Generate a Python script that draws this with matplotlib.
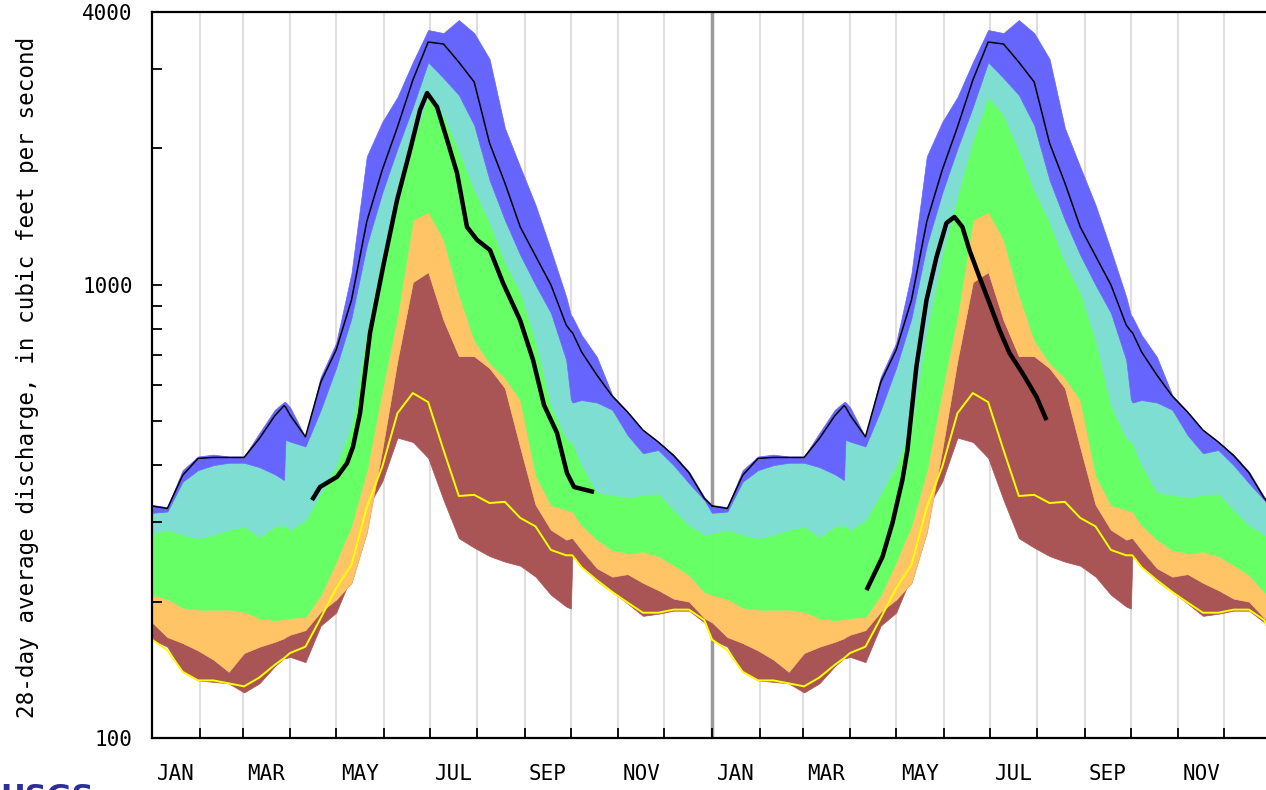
import matplotlib
matplotlib.use('Agg')
import matplotlib.pyplot as plt
from matplotlib.ticker import NullFormatter
import numpy as np

# day of year for the climatology curves (same curves drawn for both years)
days = [0, 10, 20, 30, 40, 50, 60, 70, 80, 86, 87, 90, 100, 110, 120, 130, 140, 150, 160, 170,
        180, 190, 200, 210, 220, 230, 240, 250, 260, 270, 273, 274, 280, 290, 300, 310, 320,
        330, 340, 350, 360, 365]

vmax = [327, 323, 390, 418, 422, 418, 418, 471, 530, 551, 551, 537, 461, 627, 744, 1060, 1920,
        2285, 2597, 3100, 3650, 3594, 3840, 3594, 3150, 2218, 1820, 1500, 1193, 940, 858, 850,
        775, 693, 571, 524, 478, 450, 422, 387, 340, 327]
p90 = [314, 316, 368, 390, 400, 405, 405, 396, 382, 371, 455, 451, 440, 530, 656, 845, 1224,
       1595, 2000, 2468, 3100, 2860, 2624, 2252, 1703, 1390, 1164, 999, 867, 682, 560, 550,
       557, 550, 530, 466, 425, 432, 400, 365, 335, 314]
p75 = [283, 288, 281, 276, 281, 288, 293, 278, 293, 295, 295, 288, 303, 347, 400, 491, 795,
       1164, 1578, 2090, 2600, 2371, 1982, 1620, 1376, 1123, 964, 755, 543, 459, 450, 448,
       400, 349, 344, 340, 344, 347, 319, 295, 281, 283]
p25 = [207, 203, 194, 192, 192, 192, 190, 184, 182, 183, 183, 184, 185, 207, 245, 295, 390,
       586, 858, 1390, 1450, 1256, 950, 755, 672, 623, 557, 380, 327, 319, 316, 316,
       295, 274, 260, 256, 258, 252, 241, 229, 210, 207]
p10 = [180, 167, 162, 156, 149, 140, 154, 159, 163, 166, 167, 169, 173, 190, 202, 220, 285,
       432, 682, 1014, 1067, 836, 696, 696, 655, 592, 438, 327, 288, 274, 276, 276,
       260, 237, 227, 230, 220, 212, 203, 200, 184, 180]
vmin = [165, 159, 140, 134, 133, 132, 126, 132, 144, 150, 150, 151, 147, 177, 189, 228, 320,
        368, 460, 450, 415, 335, 276, 263, 252, 245, 240, 227, 207, 195, 193, 252,
        240, 222, 210, 198, 186, 188, 191, 191, 180, 165]
thin_black = [325, 321, 380, 414, 416, 416, 416, 458, 514, 541, 538, 516, 462, 610, 718, 925, 1380,
              1790, 2230, 2830, 3434, 3400, 3100, 2803, 2055, 1678, 1342, 1158, 1000, 815, 790, 785,
              711, 632, 568, 524, 478, 450, 420, 385, 338, 325]
yellow = [165, 156, 140, 134, 134, 132, 130, 136, 145, 150, 151, 154, 159, 184, 214, 241, 323,
          396, 521, 577, 551, 432, 342, 344, 330, 332, 306, 293, 260, 253, 253, 253,
          238, 223, 210, 199, 189, 189, 192, 192, 182, 165]

# current-year 28-day averages (day of year, cfs)
cur1_days = [104.3, 109.5, 120.6, 127.1, 131.0, 135.6, 142.1, 150.6, 159.7, 168.2, 174.7, 179.3,
             185.8, 192.3, 198.8, 205.3, 211.9, 220.3, 228.8, 239.9, 248.4, 255.5, 264.0, 270.5,
             275.1, 288.1]
cur1_vals = [335, 358, 377, 404, 439, 521, 783, 1095, 1537, 1982, 2431, 2650, 2468, 2090, 1766,
             1342, 1256, 1193, 1009, 836, 682, 543, 471, 384, 358, 349]
cur2_days = [100.7, 111.1, 117.6, 124.1, 127.4, 133.2, 139.8, 146.3, 152.8, 158.0, 163.2, 167.8,
             174.3, 180.8, 187.4, 193.9, 202.3, 211.5, 218.0]
cur2_vals = [212, 251, 298, 371, 432, 659, 925, 1151, 1369, 1412, 1342, 1193, 1041, 912, 795,
             707, 639, 566, 503]

month_len = [31, 28, 31, 30, 31, 30, 31, 31, 30, 31, 30, 31]
month_names = ['JAN', 'MAR', 'MAY', 'JUL', 'SEP', 'NOV']

c_blue = '#6666ff'
c_cyan = '#7fded2'
c_green = '#66ff66'
c_orange = '#ffc466'
c_brown = '#aa5555'

mono = 'DejaVu Sans Mono'

fig = plt.figure(figsize=(12.66, 7.90), dpi=100)
ax = fig.add_axes([152 / 1266, 52 / 790, 1120 / 1266, 726 / 790])
ax.set_yscale('log')

bounds = np.cumsum([0] + month_len)
for yr in range(2):
    for b in bounds[1:]:
        x = b + 365 * yr
        if x == 365:
            ax.axvline(x, color='#9a9a9a', lw=2.5, zorder=0)
        elif x < 730:
            ax.axvline(x, color='#dedede', lw=1.5, zorder=0)

bands = [(vmin, p10, c_brown), (p10, p25, c_orange), (p25, p75, c_green),
         (p75, p90, c_cyan), (p90, vmax, c_blue)]
for off in (0, 365):
    d = np.array(days) + off
    for lo, hi, c in bands:
        ax.fill_between(d, lo, hi, facecolor=c, edgecolor=c, lw=0.5, zorder=1)
    ax.plot(d, yellow, color='#ffff00', lw=1.4, zorder=2)
    ax.plot(d, thin_black, color='black', lw=1.1, zorder=3)

ax.plot(cur1_days, cur1_vals, color='black', lw=3.2, zorder=4, solid_capstyle='butt')
ax.plot(np.array(cur2_days) + 365, cur2_vals, color='black', lw=3.2, zorder=4,
        solid_capstyle='butt')

ax.set_xlim(0, 730)
ax.set_ylim(100, 4000)

# month boundary ticks, labels centred on odd months
tick_pos = [b + 365 * yr for yr in range(2) for b in bounds[1:-1]] + [365]
ax.set_xticks(sorted(tick_pos))
ax.set_xticklabels([''] * len(tick_pos))
lab_pos = []
lab_txt = []
for yr in range(2):
    for i in range(0, 12, 2):
        lab_pos.append(365 * yr + bounds[i] + month_len[i] / 2)
        lab_txt.append(month_names[i // 2])
ax.set_xticks(lab_pos, minor=True)
ax.set_xticklabels(lab_txt, minor=True, family=mono, fontsize=15)
ax.tick_params(axis='x', which='major', direction='in', length=7, width=1.3)
ax.tick_params(axis='x', which='minor', length=0, pad=19)

ax.set_yticks([100, 1000, 4000])
ax.set_yticklabels(['100', '1000', '4000'], family=mono, fontsize=15)
ax.set_yticks([200, 300, 400, 500, 600, 700, 800, 900, 2000, 3000], minor=True)
ax.yaxis.set_minor_formatter(NullFormatter())
ax.tick_params(axis='y', which='both', direction='in', length=7, width=1.3, pad=14)

for s in ('left', 'bottom', 'top'):
    ax.spines[s].set_linewidth(1.6)
    ax.spines[s].set_zorder(5)
ax.spines['right'].set_visible(False)

fig.text(28 / 1266, 1 - 377 / 790, '28-day average discharge, in cubic feet per second',
         rotation=90, ha='center', va='center', family=mono, fontsize=16.3)
fig.text(0.0, 0.009, 'USGS', color='#2e2e9a', fontsize=22, fontweight='bold',
         va='top', ha='left')

fig.savefig('out.png', dpi=100)
